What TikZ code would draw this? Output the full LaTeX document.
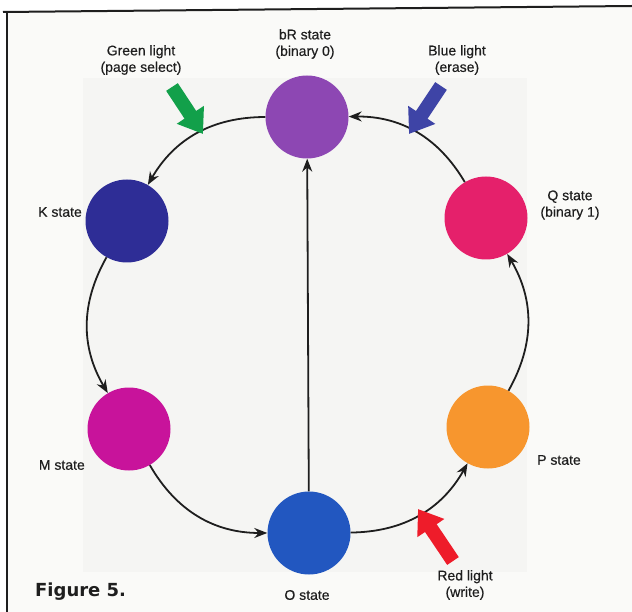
\documentclass[tikz,border=0pt]{standalone}
\usepackage{fontspec}
\setmainfont{Liberation Sans}[FakeBold=0.4]
\newfontfamily\figfont{DejaVu Sans}
\usepackage{tikz}
\usetikzlibrary{arrows.meta}
\definecolor{ink}{HTML}{1E1E1E}
\definecolor{paper}{HTML}{FAFAF8}
\definecolor{bleed}{HTML}{F5F5F3}
\definecolor{bRcol}{HTML}{8D47B3}
\definecolor{Kcol}{HTML}{2E2D96}
\definecolor{Mcol}{HTML}{C8139B}
\definecolor{Ocol}{HTML}{2257C0}
\definecolor{Pcol}{HTML}{F7962E}
\definecolor{Qcol}{HTML}{E5206B}
\definecolor{greenlight}{HTML}{12A04A}
\definecolor{bluelight}{HTML}{3E44A6}
\definecolor{redlight}{HTML}{EE1C2A}

\begin{document}
\begin{tikzpicture}[x=1pt,y=1pt,
  disc/.style={circle,minimum size=83pt,inner sep=0pt},
  flow/.style={-{Stealth[length=13pt,width=10pt]},line width=1.8pt,draw=ink},
  light/.style={-{Triangle[length=23pt,width=31pt]},line width=14pt},
  lab/.style={font=\fontsize{14}{16.5}\selectfont,text=ink,align=center,inner sep=0pt}
]
  \useasboundingbox (0,0) rectangle (632,-612);
  \fill[white] (0,0) rectangle (632,-612);
  \fill[paper] (7,-12) -- (632,-6) -- (632,-612) -- (7,-612) -- cycle;
  \fill[bleed] (83,-78) rectangle (527,-572);
  % frame
  \draw[line width=2pt,ink] (3,-12) -- (632,-6);
  \draw[line width=1.8pt,ink] (7,-12) -- (7,-612);

  % the six states
  \node[disc,fill=bRcol] (bR) at (307,-117) {};
  \node[disc,fill=Kcol] (K) at (127,-221) {};
  \node[disc,fill=Mcol] (M) at (129,-429) {};
  \node[disc,fill=Ocol] (O) at (309,-533) {};
  \node[disc,fill=Pcol] (P) at (488,-427) {};
  \node[disc,fill=Qcol] (Q) at (486,-218) {};

  \node[lab] (bRlab) at (305,-44) {bR state\\(binary 0)};
  \node[lab,anchor=east] (Klab) at (82,-212) {K state};
  \node[lab,anchor=east] (Mlab) at (85,-465) {M state};
  \node[lab] (Olab) at (307,-595) {O state};
  \node[lab,anchor=west] (Plab) at (537,-460) {P state};
  \node[lab] (Qlab) at (570,-205) {Q state\\(binary 1)};

  % cycle
  \draw[flow] (bR) to[bend right=30] (K);
  \draw[flow] (K) to[bend right=30] (M);
  \draw[flow] (M) to[bend right=30] (O);
  \draw[flow] (O) to[bend right=30] (P);
  \draw[flow] (P) to[bend right=30] (Q);
  \draw[flow] (Q) to[bend right=30] (bR);
  \draw[flow] (O) -- (bR);

  % lights
  \coordinate (gtail) at (172,-87);
  \coordinate (gtip) at (203,-134);
  \coordinate (btail) at (441,-86);
  \coordinate (btip) at (409,-134);
  \coordinate (rtail) at (453,-561);
  \coordinate (rtip) at (418,-509);
  \draw[light,greenlight] (gtail) -- (gtip);
  \draw[light,bluelight] (btail) -- (btip);
  \draw[light,redlight] (rtail) -- (rtip);
  \node[lab] (glab) at (141,-60) {Green light\\(page select)};
  \node[lab] (blab) at (457,-60) {Blue light\\(erase)};
  \node[lab] (rlab) at (465,-585) {Red light\\(write)};

  \node[anchor=west,inner sep=0pt,text=ink,font=\figfont\fontsize{18}{20}\selectfont\bfseries] (fig) at (35,-592) {Figure 5.};
\end{tikzpicture}
\end{document}
